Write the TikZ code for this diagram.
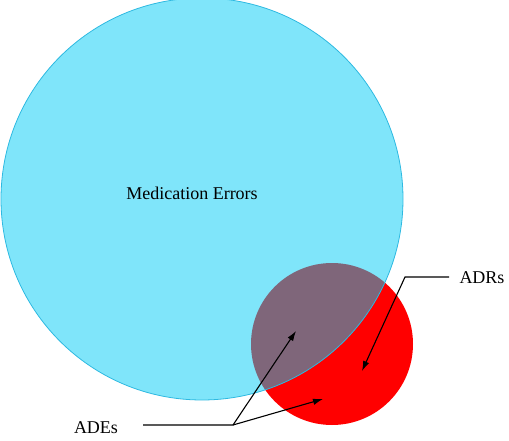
\documentclass[tikz,border=0pt]{standalone}
\usepackage{fontspec}
\setmainfont{Liberation Serif}
\usepackage{xcolor}
\usetikzlibrary{shapes,arrows.meta,positioning,calc}
\definecolor{errcyan}{RGB}{0,204,245}
\definecolor{errline}{RGB}{45,185,225}
\tikzstyle{setred}  =[circle, fill=red, inner sep=0pt, minimum size=162pt]
\tikzstyle{setcyan} =[circle, draw=errline, line width=0.8pt, fill=errcyan,
                      fill opacity=0.5, draw opacity=1, inner sep=0pt, minimum size=402pt]
\tikzstyle{lbl}     =[font=\fontsize{18}{22}\selectfont, inner sep=0pt]
\tikzstyle{arr}     =[-{Latex[length=10pt,width=6.5pt]}, line width=1.1pt, black]

\begin{document}
\begin{tikzpicture}[x=1pt, y=-1pt]
  \useasboundingbox (0,0) rectangle (509,441);

  % -- sets ------------------------------------------------------------------
  \node[setred]  (adr)    at (332,344) {};
  \node[setcyan] (err)    at (202,199) {};
  \node[lbl]     (errtxt) at (192,193) {Medication Errors};

  % -- labels ----------------------------------------------------------------
  \node[lbl] (ade)    at (96,428)  {ADEs};
  \node[lbl] (adrtxt) at (482,278) {ADRs};

  \coordinate (adestart) at (143,425);
  \coordinate (adeknee)  at (233,425);
  \coordinate (adetipA)  at (296,331);
  \coordinate (adetipB)  at (323,399);
  \coordinate (adrstart) at (449,277);
  \coordinate (adrknee)  at (405,277);
  \coordinate (adrtip)   at (362,371);

  % -- pointers --------------------------------------------------------------
  \draw[arr] (adestart) -- (adeknee) -- (adetipA);
  \draw[arr] (adeknee) -- (adetipB);
  \draw[arr] (adrstart) -- (adrknee) -- (adrtip);

\end{tikzpicture}
\end{document}
